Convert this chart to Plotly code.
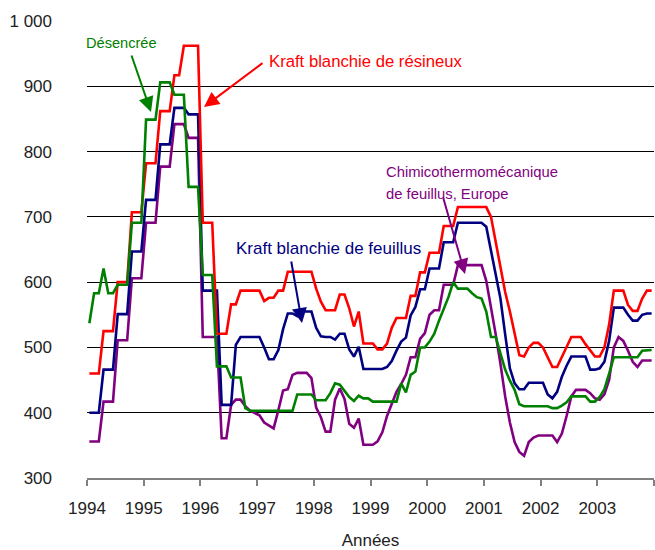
import plotly.graph_objects as go

# Monthly prices, January 1994 - December 2003 (one row per year)
kraft_resineux = [
    460, 460, 460, 525, 525, 525, 600, 600, 600, 707, 707, 707,
    782, 782, 782, 862, 862, 862, 917, 917, 962, 962, 962, 962,
    691, 691, 691, 521, 521, 521, 566, 566, 587, 587, 587, 587,
    587, 571, 576, 576, 587, 587, 616, 616, 616, 616, 616, 616,
    590, 570, 557, 557, 557, 581, 581, 560, 532, 555, 506, 506,
    506, 497, 497, 506, 530, 545, 545, 545, 579, 579, 615, 615,
    645, 645, 645, 686, 686, 686, 715, 715, 715, 715, 715, 715,
    715, 700, 662, 622, 585, 555, 520, 488, 486, 500, 507, 507,
    500, 486, 470, 470, 486, 501, 516, 516, 516, 505, 495, 486,
    486, 500, 535, 587, 587, 587, 565, 556, 556, 575, 587, 587,
]
kraft_feuillus = [
    400, 400, 400, 466, 466, 466, 551, 551, 551, 647, 647, 647,
    726, 726, 726, 811, 811, 811, 867, 867, 867, 857, 857, 857,
    587, 587, 587, 587, 412, 412, 412, 504, 516, 516, 516, 516,
    516, 500, 482, 482, 496, 528, 552, 552, 548, 555, 555, 555,
    530, 517, 516, 516, 512, 521, 521, 497, 486, 501, 467, 467,
    467, 467, 467, 470, 479, 495, 509, 515, 549, 562, 589, 589,
    621, 621, 621, 661, 661, 661, 691, 691, 691, 691, 691, 691,
    685, 650, 610, 575, 520, 468, 445, 436, 436, 446, 446, 446,
    446, 428, 422, 432, 455, 472, 486, 486, 486, 486, 466, 466,
    468, 478, 510, 561, 561, 561, 550, 541, 541, 550, 552, 552,
]
desencree = [
    537, 583, 583, 621, 583, 583, 596, 596, 596, 691, 691, 691,
    849, 849, 849, 906, 906, 906, 887, 887, 887, 746, 746, 746,
    611, 611, 611, 471, 471, 471, 454, 454, 454, 407, 403, 403,
    403, 403, 403, 403, 403, 403, 403, 403, 428, 428, 428, 428,
    419, 419, 419, 430, 445, 443, 433, 424, 418, 426, 422, 422,
    417, 417, 417, 417, 417, 417, 445, 431, 458, 463, 500, 500,
    509, 521, 541, 558, 577, 600, 590, 590, 590, 583, 577, 575,
    555, 516, 516, 491, 466, 449, 435, 413, 410, 410, 410, 410,
    410, 410, 407, 407, 411, 416, 425, 425, 425, 425, 417, 417,
    424, 436, 460, 485, 485, 485, 485, 485, 485, 495, 496, 496,
]
ctmp_europe = [
    356, 356, 356, 417, 417, 417, 511, 511, 511, 606, 606, 606,
    691, 691, 691, 777, 777, 777, 842, 842, 842, 821, 821, 821,
    516, 516, 516, 516, 361, 361, 412, 420, 420, 410, 403, 399,
    396, 385, 380, 376, 404, 434, 436, 458, 461, 461, 461, 453,
    408, 393, 371, 371, 420, 437, 421, 383, 377, 391, 351, 351,
    351, 356, 370, 395, 415, 432, 444, 458, 485, 485, 513, 522,
    550, 557, 557, 596, 596, 596, 626, 626, 626, 626, 626, 626,
    602, 563, 520, 475, 425, 385, 355, 340, 334, 355, 362, 365,
    365, 365, 365, 355, 368, 395, 425, 435, 435, 435, 430, 422,
    420, 428, 450, 500, 516, 510, 495, 478, 470, 480, 480, 480,
]

year_ticks = [1994, 1995, 1996, 1997, 1998, 1999, 2000, 2001, 2002, 2003, 2004]
year_labels = ["1994", "1995", "1996", "1997", "1998", "1999", "2000",
               "2001", "2002", "2003", ""]
y_ticks = [300, 400, 500, 600, 700, 800, 900, 1000]
y_labels = ["300", "400", "500", "600", "700", "800", "900", "1 000"]

# mid-month positions on a decimal-year axis
months = [1994 + (i + 0.5) / 12 for i in range(len(kraft_resineux))]

RED, NAVY, GREEN, PURPLE = "#FF0000", "#000080", "#008000", "#800080"
TICK_FONT = dict(family="Liberation Sans, Arial, sans-serif", size=17, color="#222222")
NOTE_FAMILY = "Liberation Sans, Arial, sans-serif"

fig = go.Figure()
for name, vals, col in [
    ("Chimicothermomécanique de feuillus, Europe", ctmp_europe, PURPLE),
    ("Kraft blanchie de feuillus", kraft_feuillus, NAVY),
    ("Kraft blanchie de résineux", kraft_resineux, RED),
    ("Désencrée", desencree, GREEN),
]:
    fig.add_trace(go.Scatter(x=months, y=vals, mode="lines", name=name,
                             line=dict(color=col, width=2.6)))

# plot-area geometry in pixels, used to place the labels
L, R, T, B = 87, 1, 21, 72
W, H = 655 - L - R, 550 - T - B


def px_to_data(px, py):
    return 1994 + (px - L) / W * 10, 300 + (550 - B - py) / H * 700


def px_to_paper(px, py):
    return (px - L) / W, (550 - B - py) / H


labels = [
    ("Désencrée", 84, 43, GREEN, 14.6),
    ("Kraft blanchie de résineux", 267, 61, RED, 16.7),
    ("Kraft blanchie de feuillus", 234, 248, NAVY, 17),
    ("Chimicothermomécanique", 384, 172, PURPLE, 14.8),
    ("de feuillus, Europe", 384, 194, PURPLE, 14.8),
]
annotations = []
for text, px, py, col, size in labels:
    xp, yp = px_to_paper(px, py)
    annotations.append(dict(text=text, x=xp, y=yp, xref="paper", yref="paper",
                            xanchor="left", yanchor="middle", showarrow=False,
                            font=dict(family=NOTE_FAMILY, size=size, color=col)))

arrows = [
    ((131, 54), (151, 112), GREEN),
    ((264, 62), (204, 107), RED),
    ((291, 260), (302, 323), NAVY),
    ((443, 197), (465, 274), PURPLE),
]
for (tx, ty), (hx, hy), col in arrows:
    ax, ay = px_to_data(tx, ty)
    x, y = px_to_data(hx, hy)
    annotations.append(dict(x=x, y=y, ax=ax, ay=ay, xref="x", yref="y",
                            axref="x", ayref="y", text="", showarrow=True,
                            arrowhead=2, arrowsize=1.5, arrowwidth=2,
                            arrowcolor=col, standoff=0))

fig.update_layout(
    width=655, height=550,
    margin=dict(l=L, r=R, t=T, b=B),
    paper_bgcolor="white", plot_bgcolor="white",
    showlegend=False,
    annotations=annotations,
    xaxis=dict(range=[1994, 2004], tickvals=year_ticks, ticktext=year_labels,
               showgrid=False, zeroline=False, showline=True,
               linecolor="#808080", linewidth=1.5,
               ticks="outside", ticklen=6, tickwidth=1.5, tickcolor="#808080",
               tickfont=TICK_FONT, ticklabelstandoff=8,
               title=dict(text="Années", font=TICK_FONT, standoff=17)),
    yaxis=dict(range=[300, 1000], tickvals=y_ticks, ticktext=y_labels,
               showgrid=True, gridcolor="#000000", gridwidth=1,
               zeroline=False, showline=False, ticks="",
               tickfont=TICK_FONT, ticklabelstandoff=34),
)

fig.write_html("out.html")
